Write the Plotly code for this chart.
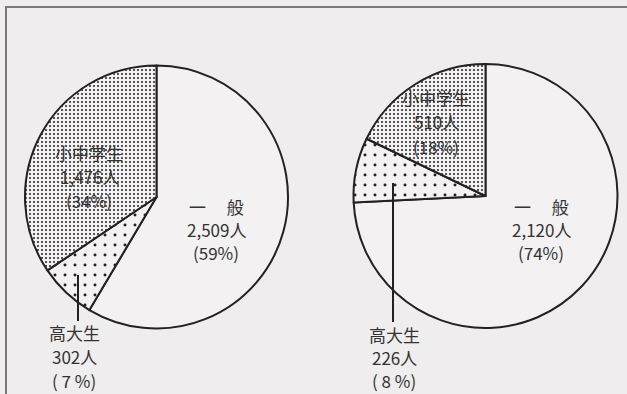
import plotly.graph_objects as go

W, H = 627, 394

categories = ["一般", "高大生", "小中学生"]
left_values = [2509, 302, 1476]
left_pcts = ["59%", " 7 %", "34%"]
right_values = [2120, 226, 510]
right_pcts = ["74%", " 8 %", "18%"]

BG = "#efedee"
FILL = "#f3f1f2"
INK = "#222222"

def px(x):
    return x / W

def py(y):
    return 1 - y / H

pattern = dict(
    shape=["", ".", "."],
    size=[8, 10, 4],
    solidity=[0.1, 0.07, 0.2],
    fgcolor=INK,
    bgcolor=[FILL, FILL, FILL],
    fillmode="replace",
)

def pie(values, cx, cy, r):
    return go.Pie(
        labels=categories,
        values=values,
        sort=False,
        direction="clockwise",
        rotation=0,
        textinfo="none",
        hoverinfo="skip",
        showlegend=False,
        marker=dict(colors=[FILL, FILL, FILL], line=dict(color=INK, width=2), pattern=pattern),
        domain=dict(x=[px(cx - r), px(cx + r)], y=[py(cy + r), py(cy - r)]),
    )

fig = go.Figure()
fig.add_trace(pie(left_values, 156.5, 197, 131.5))
fig.add_trace(pie(right_values, 485.5, 196, 132))

def fmt(v):
    return f"{v:,}人"

labels = [
    # (text lines, cx, cy of middle line)
    (["小中学生", fmt(left_values[2]), f"({left_pcts[2]})"], 89, 176),
    (["一　 般", fmt(left_values[0]), f"({left_pcts[0]})"], 216, 229),
    (["高大生", fmt(left_values[1]), f"({left_pcts[1]})"], 74, 356),
    (["小中学生", fmt(right_values[2]), f"({right_pcts[2]})"], 436, 122),
    (["一　 般", fmt(right_values[0]), f"({right_pcts[0]})"], 541, 229),
    (["高大生", fmt(right_values[1]), f"({right_pcts[1]})"], 394, 357),
]

LS = 23.5
for lines, cx, cy in labels:
    for i, line in enumerate(lines):
        fig.add_annotation(
            text=line,
            x=px(cx), y=py(round(cy + (i - 1) * LS)), xref="paper", yref="paper",
            xanchor="center", yanchor="middle",
            showarrow=False, align="center", borderpad=0,
            font=dict(family="Noto Sans CJK JP", size=17, color="#333333"),
        )

shapes = [
    # frame
    dict(type="rect", xref="paper", yref="paper", x0=px(6), y0=py(7), x1=px(640), y1=py(410),
         line=dict(color="#7a7a7a", width=2), fillcolor="rgba(0,0,0,0)", layer="below"),
    # leader lines
    dict(type="line", xref="paper", yref="paper", x0=px(78), y0=py(275), x1=px(78), y1=py(321),
         line=dict(color=INK, width=2)),
    dict(type="line", xref="paper", yref="paper", x0=px(393), y0=py(183), x1=px(393), y1=py(322),
         line=dict(color=INK, width=2)),
]

fig.update_layout(
    width=W, height=H,
    margin=dict(l=0, r=0, t=0, b=0),
    paper_bgcolor=BG, plot_bgcolor=BG,
    shapes=shapes,
)

fig.write_html("out.html")
